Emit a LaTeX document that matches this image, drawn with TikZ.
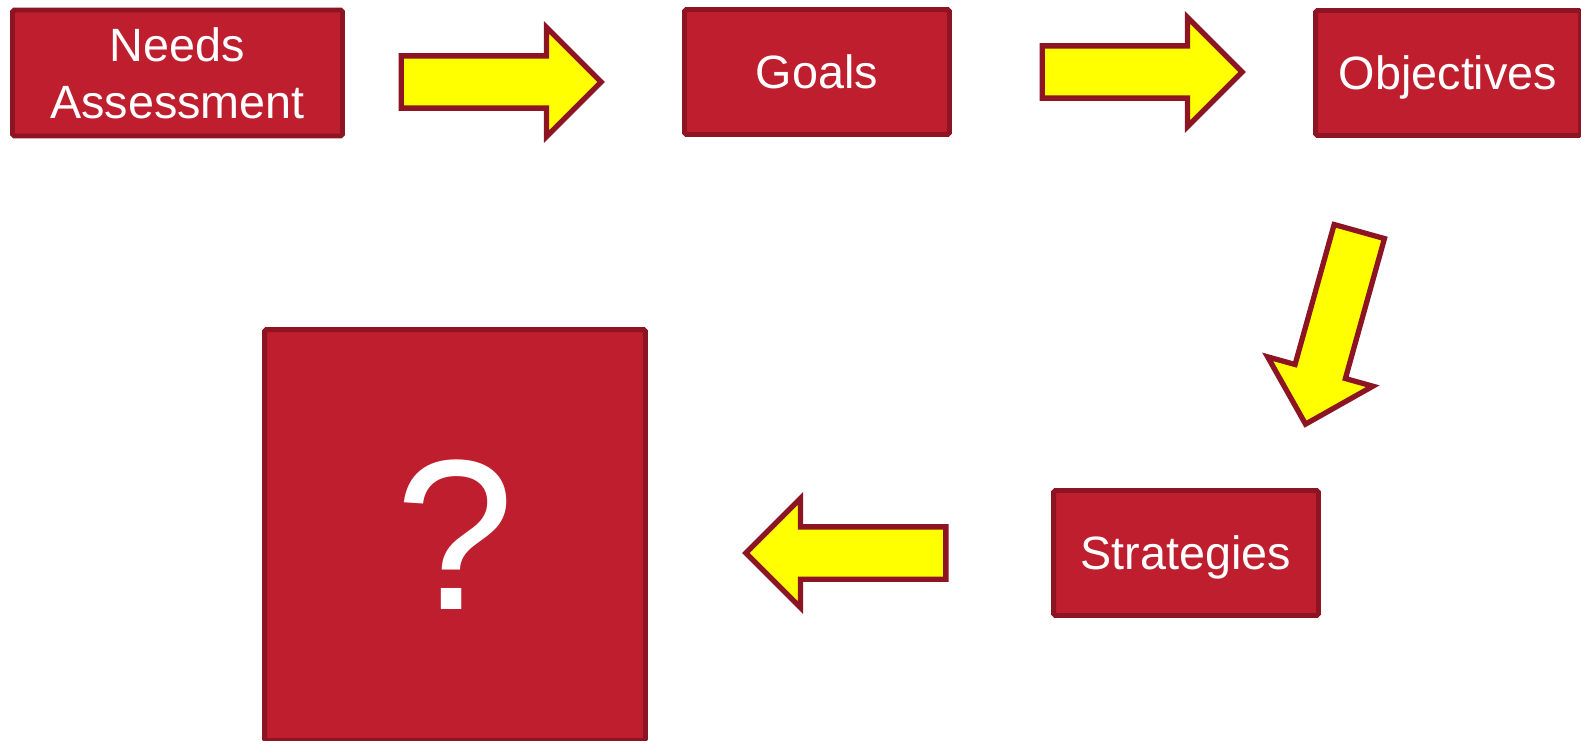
\documentclass[tikz,border=0pt]{standalone}
\usepackage{fontspec}
\setmainfont{Liberation Sans}
\usetikzlibrary{shapes.arrows}

\definecolor{boxred}{RGB}{190,30,45}
\definecolor{edgered}{RGB}{140,20,35}
\definecolor{arrowyellow}{RGB}{255,255,0}

\tikzset{
  box/.style={draw=edgered, fill=boxred, line width=2.8pt, rounded corners=1pt,
    text=white, align=center, inner sep=0pt,
    font=\fontsize{26.6pt}{32.3pt}\selectfont,
    minimum width=5.3cm, minimum height=2.5cm},
  onelinebox/.style={box, text depth=0pt},
  blockarrow/.style={single arrow, draw=edgered, fill=arrowyellow, line width=3pt,
    inner xsep=0pt, inner ysep=0.47cm, minimum height=4.0cm, minimum width=0pt,
    single arrow head extend=0.57cm, anchor=tail}
}

\begin{document}
\begin{tikzpicture}[x=0.02cm, y=-0.02cm]
                \clip (0,0) rectangle (1581,740);
                % boxes
                \node[box, minimum width=6.6cm, minimum height=2.52cm] (needs) at (177.5,73) {Needs\\Assessment};
                \node[onelinebox] (goals) at (817,72) {Goals};
                \node[onelinebox] (objectives) at (1448,73) {Objectives};
                \node[onelinebox] (strategies) at (1186,553) {Strategies};
                \node[box, minimum width=7.62cm, minimum height=8.22cm,
                      font=\fontsize{122pt}{130pt}\selectfont] (unknown) at (455,535) {?};
                % arrows
                \node[blockarrow] (needs-goals) at (398.5,82) {};
                \node[blockarrow] (goals-objectives) at (1039.5,72) {};
                \node[blockarrow, rotate=-105.6] (objectives-strategies) at (1360,229) {};
                \node[blockarrow, rotate=180] (strategies-unknown) at (948.5,553) {};
\end{tikzpicture}
\end{document}
